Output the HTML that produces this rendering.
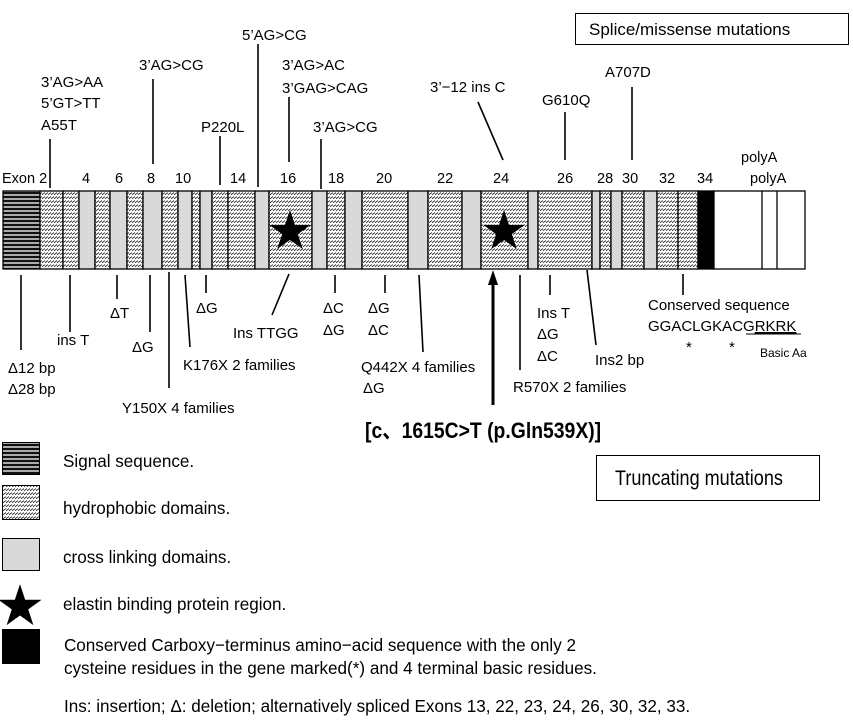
<!DOCTYPE html>
<html><head><meta charset="utf-8"><style>
html,body{margin:0;padding:0;background:#fff;}
svg{display:block;}
text{font-family:"Liberation Sans","Noto Sans CJK JP",sans-serif;fill:#000;}
.t{font-size:15px;}
.n{font-size:14.5px;}
.c{font-size:18px;}
</style></head><body>
<svg width="853" height="720" viewBox="0 0 853 720" xmlns="http://www.w3.org/2000/svg">
<defs>
<pattern id="h" width="3" height="4" patternUnits="userSpaceOnUse">
<rect width="3" height="4" fill="#fff"/>
<line x1="-0.5" y1="3" x2="3.5" y2="0.3" stroke="#222" stroke-width="0.9"/>
</pattern>
<pattern id="s" width="4" height="4" patternUnits="userSpaceOnUse">
<rect width="4" height="4" fill="#aaa"/>
<rect y="0" width="4" height="2" fill="#111"/>
</pattern>
</defs>
<rect x="575.5" y="13.5" width="273" height="31" fill="#fff" stroke="#000"/>
<text x="589" y="35" style="font-size:17px">Splice/missense mutations</text>
<rect x="596.5" y="455.5" width="223" height="45" fill="#fff" stroke="#000"/>
<g transform="translate(615,485) scale(0.86,1)"><text x="0" y="0" style="font-size:21px">Truncating mutations</text></g>

<g stroke="#000" stroke-width="1.3">
<rect x="3" y="191" width="37" height="78" fill="url(#s)"/>
<rect x="40" y="191" width="23" height="78" fill="url(#h)"/>
<rect x="63" y="191" width="16" height="78" fill="url(#h)"/>
<rect x="79" y="191" width="16" height="78" fill="#d9d9d9"/>
<rect x="95" y="191" width="15" height="78" fill="url(#h)"/>
<rect x="110" y="191" width="17" height="78" fill="#d9d9d9"/>
<rect x="127" y="191" width="16" height="78" fill="url(#h)"/>
<rect x="143" y="191" width="19" height="78" fill="#d9d9d9"/>
<rect x="162" y="191" width="16" height="78" fill="url(#h)"/>
<rect x="178" y="191" width="14" height="78" fill="#d9d9d9"/>
<rect x="192" y="191" width="8" height="78" fill="url(#h)"/>
<rect x="200" y="191" width="12" height="78" fill="#d9d9d9"/>
<rect x="212" y="191" width="16" height="78" fill="url(#h)"/>
<rect x="228" y="191" width="27" height="78" fill="url(#h)"/>
<rect x="255" y="191" width="14" height="78" fill="#d9d9d9"/>
<rect x="269" y="191" width="43" height="78" fill="url(#h)"/>
<rect x="312" y="191" width="15" height="78" fill="#d9d9d9"/>
<rect x="327" y="191" width="18" height="78" fill="url(#h)"/>
<rect x="345" y="191" width="17" height="78" fill="#d9d9d9"/>
<rect x="362" y="191" width="46" height="78" fill="url(#h)"/>
<rect x="408" y="191" width="20" height="78" fill="#d9d9d9"/>
<rect x="428" y="191" width="34" height="78" fill="url(#h)"/>
<rect x="462" y="191" width="19" height="78" fill="#d9d9d9"/>
<rect x="481" y="191" width="47" height="78" fill="url(#h)"/>
<rect x="528" y="191" width="10" height="78" fill="#d9d9d9"/>
<rect x="538" y="191" width="54" height="78" fill="url(#h)"/>
<rect x="592" y="191" width="8" height="78" fill="#d9d9d9"/>
<rect x="600" y="191" width="11" height="78" fill="url(#h)"/>
<rect x="611" y="191" width="11" height="78" fill="#d9d9d9"/>
<rect x="622" y="191" width="22" height="78" fill="url(#h)"/>
<rect x="644" y="191" width="13" height="78" fill="#d9d9d9"/>
<rect x="657" y="191" width="21" height="78" fill="url(#h)"/>
<rect x="678" y="191" width="20" height="78" fill="url(#h)"/>
<rect x="698" y="191" width="16" height="78" fill="#000"/>
<rect x="714" y="191" width="91" height="78" fill="#fff"/>
<line x1="762" y1="191" x2="762" y2="269"/>
<line x1="777" y1="191" x2="777" y2="269"/>
</g>
<text x="290" y="246" text-anchor="middle" style="font-size:44px">★</text>
<text x="504" y="246" text-anchor="middle" style="font-size:44px">★</text>

<g class="n">
<text x="2" y="183">Exon 2</text><text x="82" y="183">4</text><text x="115" y="183">6</text><text x="147" y="183">8</text><text x="175" y="183">10</text><text x="230" y="183">14</text><text x="280" y="183">16</text><text x="328" y="183">18</text><text x="376" y="183">20</text><text x="437" y="183">22</text><text x="493" y="183">24</text><text x="557" y="183">26</text><text x="597" y="183">28</text><text x="622" y="183">30</text><text x="659" y="183">32</text><text x="697" y="183">34</text>
<text x="741" y="162">polyA</text><text x="750" y="183">polyA</text>
</g>

<g class="t">
<text x="41" y="87">3’AG&gt;AA</text><text x="41" y="108">5’GT&gt;TT</text><text x="41" y="130">A55T</text>
<text x="139" y="70">3’AG&gt;CG</text>
<text x="242" y="40">5’AG&gt;CG</text>
<text x="282" y="70">3’AG&gt;AC</text><text x="282" y="93">3’GAG&gt;CAG</text>
<text x="201" y="132">P220L</text>
<text x="313" y="132">3’AG&gt;CG</text>
<text x="430" y="92">3’−12 ins C</text>
<text x="542" y="105">G610Q</text>
<text x="605" y="77">A707D</text>
</g>
<g stroke="#000" stroke-width="1.6">
<line x1="50" y1="139" x2="50" y2="188"/>
<line x1="153" y1="79" x2="153" y2="164"/>
<line x1="258" y1="44" x2="258" y2="187"/>
<line x1="289" y1="97" x2="289" y2="162"/>
<line x1="220" y1="136" x2="220" y2="185"/>
<line x1="321" y1="139" x2="321" y2="189"/>
<line x1="478" y1="102" x2="503" y2="160"/>
<line x1="565" y1="112" x2="565" y2="160"/>
<line x1="632" y1="87" x2="632" y2="160"/>
<line x1="21" y1="275" x2="21" y2="350"/>
<line x1="70" y1="275" x2="70" y2="332"/>
<line x1="117" y1="275" x2="117" y2="299"/>
<line x1="150" y1="275" x2="150" y2="332"/>
<line x1="169" y1="272" x2="169" y2="388"/>
<line x1="185" y1="275" x2="190" y2="347"/>
<line x1="206" y1="275" x2="206" y2="293"/>
<line x1="289" y1="274" x2="272" y2="315"/>
<line x1="335" y1="275" x2="335" y2="293"/>
<line x1="385" y1="275" x2="385" y2="293"/>
<line x1="419" y1="275" x2="423" y2="352"/>
<line x1="520" y1="275" x2="520" y2="370"/>
<line x1="550" y1="275" x2="550" y2="295"/>
<line x1="587" y1="270" x2="596" y2="345"/>
<line x1="683" y1="274" x2="683" y2="295"/>
</g>
<line x1="493" y1="405" x2="493" y2="282" stroke="#000" stroke-width="3"/>
<polygon points="493,270 488,285 498,285" fill="#000"/>

<g class="t">
<text x="8" y="373">Δ12 bp</text><text x="8" y="394">Δ28 bp</text>
<text x="57" y="345">ins T</text>
<text x="110" y="318">ΔT</text>
<text x="132" y="352">ΔG</text>
<text x="122" y="413">Y150X 4 families</text>
<text x="183" y="370">K176X 2 families</text>
<text x="196" y="313">ΔG</text>
<text x="233" y="338">Ins TTGG</text>
<text x="323" y="313">ΔC</text><text x="323" y="335">ΔG</text>
<text x="368" y="313">ΔG</text><text x="368" y="335">ΔC</text>
<text x="361" y="372">Q442X 4 families</text><text x="363" y="393">ΔG</text>
<text x="513" y="392">R570X 2 families</text>
<text x="537" y="318">Ins T</text><text x="537" y="339">ΔG</text><text x="537" y="361">ΔC</text>
<text x="595" y="365">Ins2 bp</text>
<text x="648" y="310">Conserved sequence</text>
<text x="648" y="331">GGACLGKACG<tspan text-decoration="underline">RKRK</tspan></text>
<text x="686" y="352">*</text><text x="729" y="352">*</text>
</g>
<line x1="746" y1="334" x2="801" y2="334" stroke="#000" stroke-width="1"/>
<text x="760" y="357" style="font-size:12px">Basic Aa</text>
<g transform="translate(365,438) scale(0.88,1)"><text x="0" y="0" style="font-size:22px;font-weight:bold">[c、1615C&gt;T (p.Gln539X)]</text></g>

<rect x="2.5" y="442.5" width="37" height="32" fill="url(#s)" stroke="#000"/>
<rect x="2.5" y="485.5" width="37" height="34" fill="url(#h)" stroke="#000"/>
<rect x="2.5" y="538.5" width="37" height="32" fill="#d9d9d9" stroke="#000"/>
<text x="20" y="622" text-anchor="middle" style="font-size:46px">★</text>
<rect x="2" y="629" width="38" height="35" fill="#000"/>
<g transform="translate(63,0) scale(0.95,1)">
<text x="0" y="467" class="c">Signal sequence.</text>
<text x="0" y="514" class="c">hydrophobic domains.</text>
<text x="0" y="563" class="c">cross linking domains.</text>
<text x="0" y="610" class="c">elastin binding protein region.</text>
<text x="1" y="651" class="c">Conserved Carboxy−terminus amino−acid sequence with the only 2</text>
<text x="1" y="674" class="c">cysteine residues in the gene marked(*) and 4 terminal basic residues.</text>
<text x="1" y="712" class="c">Ins: insertion;  Δ: deletion; alternatively spliced Exons 13, 22, 23, 24, 26, 30, 32, 33.</text>
</g>
</svg>
</body></html>
